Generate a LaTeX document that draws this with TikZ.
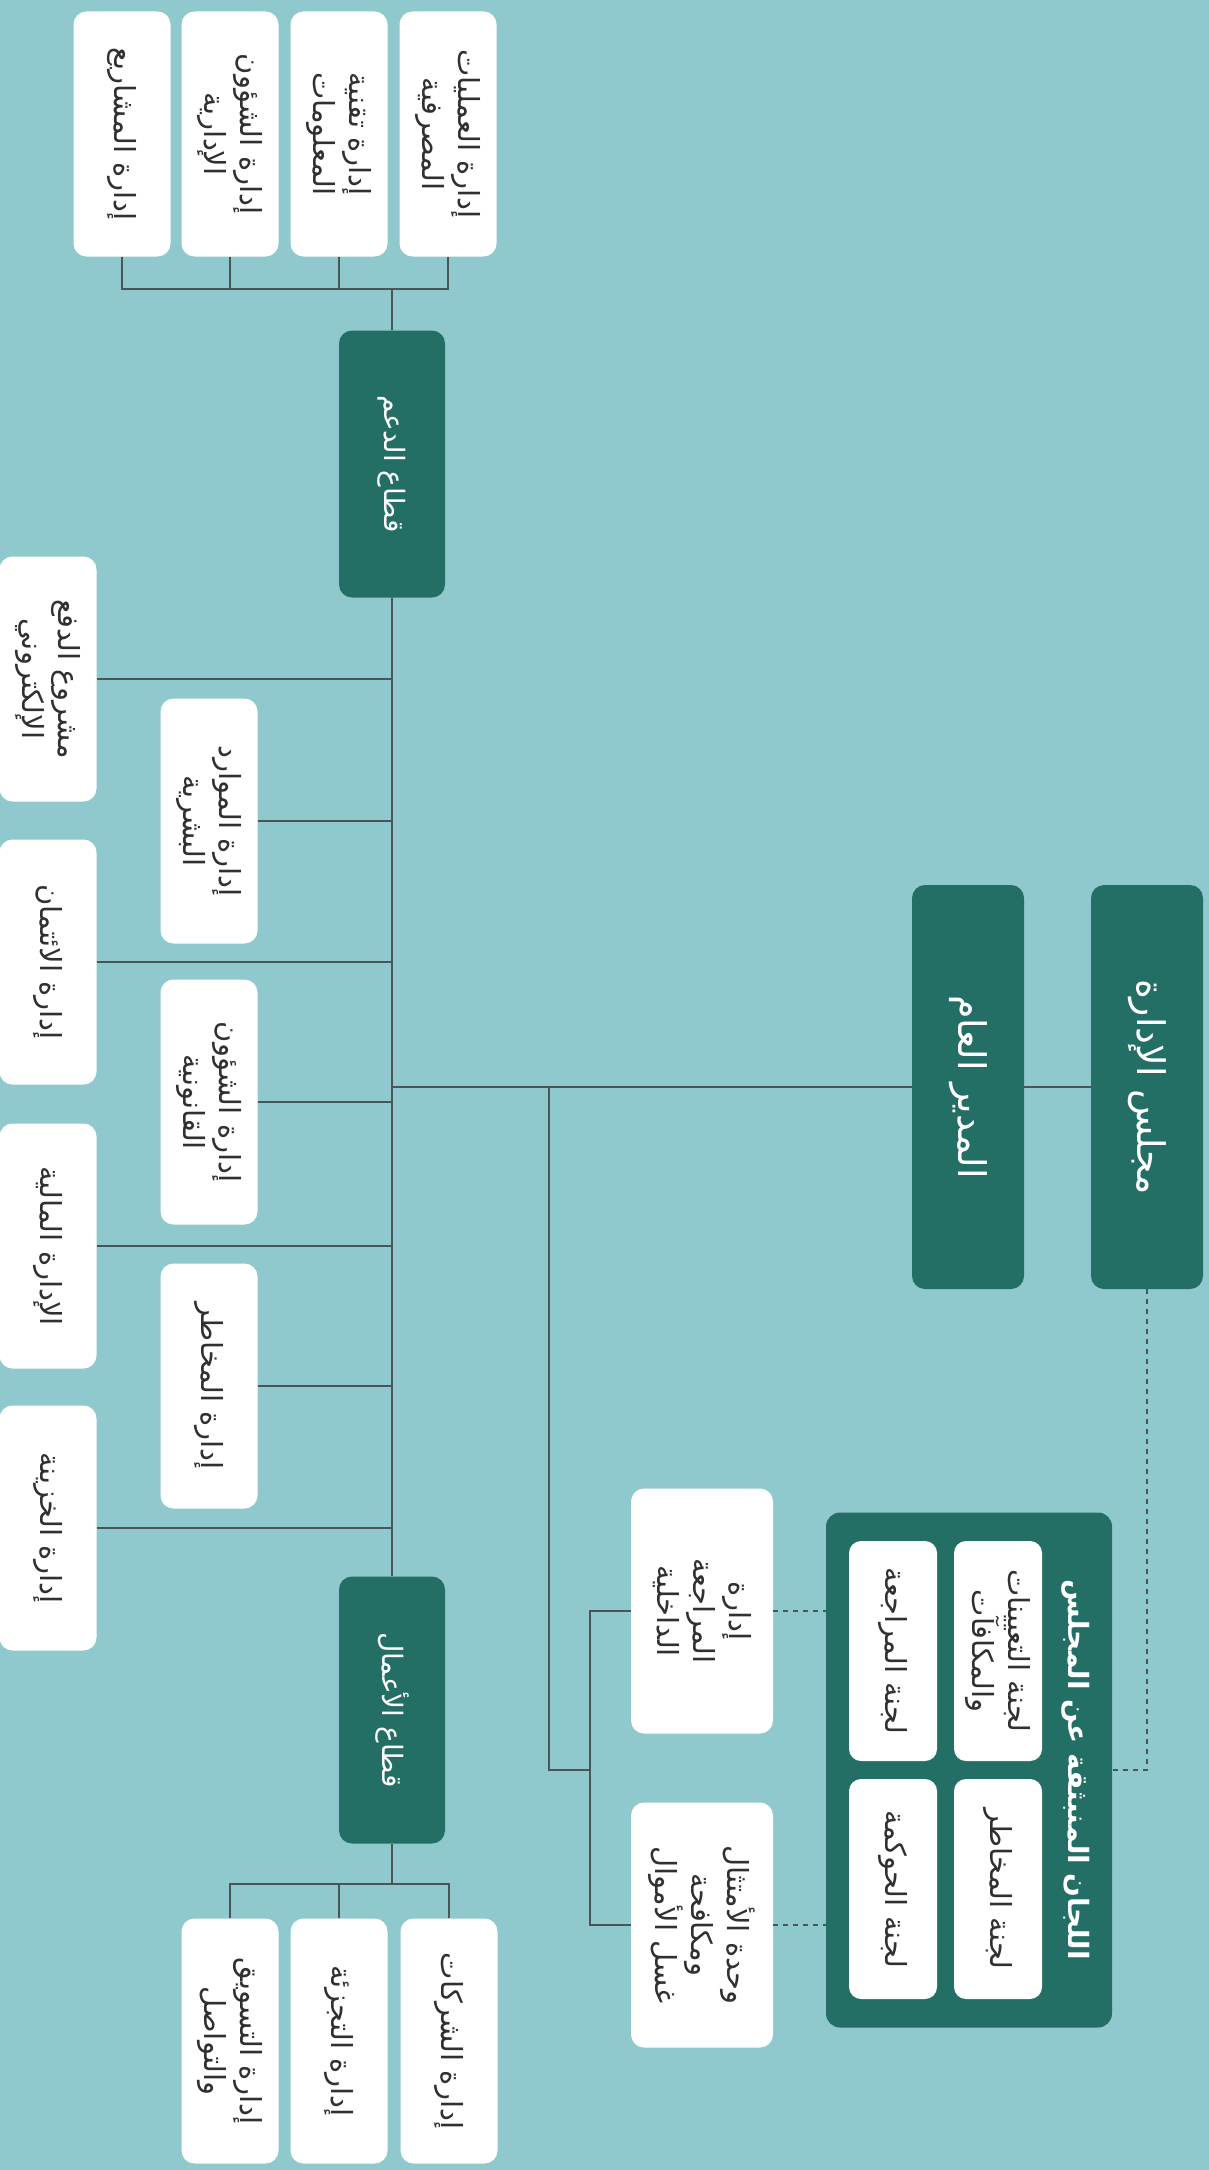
\documentclass[tikz,border=0pt]{standalone}
\usepackage{fontspec}
\usepackage{xcolor}
\usepackage{tikz}
\newfontfamily\arabicfont[Script=Arabic]{DejaVu Sans}
\TeXXeTstate=1
\newcommand{\artxt}[1]{\beginR #1\endR}
\definecolor{bg}{HTML}{90C9CD}
\definecolor{deep}{HTML}{236F66}
\definecolor{ink}{HTML}{303030}
\definecolor{wire}{HTML}{4A5558}
\tikzset{
  unit/.style={fill=white, text=ink, rounded corners=13pt, rotate=-90, minimum width=245pt, minimum height=97pt, inner sep=0pt, align=center, font=\arabicfont\fontsize{29}{36}\selectfont},
  head/.style={unit, fill=deep, text=white, minimum width=267pt, minimum height=106pt, font=\arabicfont\fontsize{28}{36}\selectfont},
  chief/.style={head, minimum width=404pt, minimum height=112pt, font=\arabicfont\fontsize{38}{44}\selectfont},
  cmt/.style={unit, minimum width=220pt, minimum height=88pt, rounded corners=12pt},
  panel/.style={fill=deep, rounded corners=14pt, minimum width=286pt, minimum height=515pt, inner sep=0pt},
  paneltitle/.style={rotate=-90, text=white, inner sep=0pt, font=\arabicfont\bfseries\fontsize{28}{34}\selectfont},
  link/.style={draw=wire, line width=2pt},
  dashlink/.style={draw=wire, line width=1.6pt, dash pattern=on 5pt off 5pt},
}

\begin{document}
\begin{tikzpicture}[x=1pt,y=-1pt]
  \fill[bg] (0,0) rectangle (1209,2170);
  \useasboundingbox (0,0) rectangle (1209,2170);

  % board and general manager
  \node[chief] (board) at (1147,1087) {\artxt{مجلس الإدارة}};
  \node[chief] (gm) at (968,1087) {\artxt{المدير العام}};

  % support sector
  \node[head] (sup) at (392,464) {\artxt{قطاع الدعم}};
  \node[unit] (proj) at (122,134) {\artxt{إدارة المشاريع}};
  \node[unit] (admin) at (230,134) {\artxt{إدارة الشؤون}\\\artxt{الإدارية}};
  \node[unit] (tech) at (339,134) {\artxt{إدارة تقنية}\\\artxt{المعلومات}};
  \node[unit] (ops) at (448,134) {\artxt{إدارة العمليات}\\\artxt{المصرفية}};

  % departments on the spine
  \node[unit] (epay) at (48,679) {\artxt{مشروع الدفع}\\\artxt{الإلكتروني}};
  \node[unit] (credit) at (48,962) {\artxt{إدارة الائتمان}};
  \node[unit] (finance) at (48,1246) {\artxt{الإدارة المالية}};
  \node[unit] (treasury) at (48,1528) {\artxt{إدارة الخزينة}};
  \node[unit] (hr) at (209,821) {\artxt{إدارة الموارد}\\\artxt{البشرية}};
  \node[unit] (legal) at (209,1102) {\artxt{إدارة الشؤون}\\\artxt{القانونية}};
  \node[unit] (risk) at (209,1386) {\artxt{إدارة المخاطر}};

  % business sector
  \node[head] (biz) at (392,1710) {\artxt{قطاع الأعمال}};
  \node[unit] (mkt) at (230,2041) {\artxt{إدارة التسويق}\\\artxt{والتواصل}};
  \node[unit] (retail) at (339,2041) {\artxt{إدارة التجزئة}};
  \node[unit] (corp) at (449,2041) {\artxt{إدارة الشركات}};

  % control units and committees
  \node[unit, minimum height=142pt] (audit) at (702,1611) {\artxt{إدارة}\\\artxt{المراجعة}\\\artxt{الداخلية}};
  \node[unit, minimum height=142pt] (aml) at (702,1925) {\artxt{وحدة الأمتثال}\\\artxt{ومكافحة}\\\artxt{غسل الأموال}};
  \node[panel] (panel) at (969,1770) {};
  \node[paneltitle] (ptitle) at (1076,1770) {\artxt{اللجان المنبثقة عن المجلس}};
  \node[cmt] (appoint) at (998,1651) {\artxt{لجنة التعيينات}\\\artxt{والمكافآت}};
  \node[cmt] (rcom) at (998,1889) {\artxt{لجنة المخاطر}};
  \node[cmt] (acom) at (893,1651) {\artxt{لجنة المراجعة}};
  \node[cmt] (gcom) at (893,1889) {\artxt{لجنة الحوكمة}};

  \coordinate (topbar) at (392,289);
  \coordinate (botbar) at (392,1884);
  \coordinate (drop) at (549,1087);
  \coordinate (fork) at (590,1770);

  \draw[link] (board.south) -- (gm.north);
  \draw[link] (gm.south) -- (gm.south -| sup.center);
  \draw[link] (sup.east) -- (biz.west);
  \draw[link] (sup.west) -- (topbar);
  \foreach \n in {proj,admin,tech,ops}
    \draw[link] (\n.east) |- (topbar);
  \draw[link] (biz.east) -- (botbar);
  \foreach \n in {mkt,retail,corp}
    \draw[link] (\n.west) |- (botbar);
  \foreach \n in {epay,credit,finance,treasury,hr,legal,risk}
    \draw[link] (\n.north) -- (\n.north -| sup.center);
  \draw[link] (drop) |- (fork);
  \draw[link] (audit.south) -| (fork) |- (aml.south);

  \draw[dashlink] (audit.north) -- (audit.north -| panel.west);
  \draw[dashlink] (aml.north) -- (aml.north -| panel.west);
  \draw[dashlink] (board.east) |- (panel.east);
\end{tikzpicture}
\end{document}
